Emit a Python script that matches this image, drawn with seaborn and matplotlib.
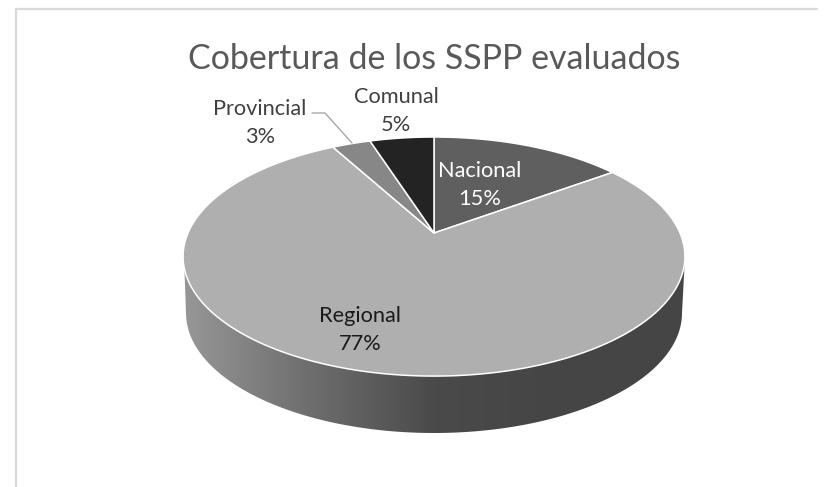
import numpy as np
import matplotlib
matplotlib.use("Agg")
import matplotlib.pyplot as plt
from matplotlib.patches import Polygon
from matplotlib.colors import ListedColormap
import seaborn as sns

categories = ["Nacional", "Regional", "Provincial", "Comunal"]
shares = [15, 77, 3, 5]
slice_colors = ["#5f5f5f", "#afafaf", "#878787", "#232323"]
label_colors = ["#ffffff", "#1a1a1a", "#404040", "#404040"]
label_pos = [(480, 185), (360, 330), (260, 123), (396, 111)]

sns.set_theme(style="white")
plt.rcParams["font.family"] = ["Lato", "DejaVu Sans"]

# centro del pastel y perspectiva
CX, CY = 434, 233
RX, S, K = 246, 114.9, 0.197


def project(theta):
    # angulo medido desde arriba, en sentido horario
    x, y = np.sin(theta), np.cos(theta)
    d = 1 + K * y
    return CX + RX * x / d, CY - S * y / d


fig = plt.figure(figsize=(8.34, 4.87), dpi=100)
ax = fig.add_axes([0, 0, 1, 1])
ax.set_xlim(0, 834)
ax.set_ylim(487, 0)
ax.axis("off")

# marco
ax.plot([16, 16, 817], [487, 9, 9], color="#d9d9d9", lw=1.6, solid_joinstyle="miter")

# borde lateral con degradado
t = np.linspace(-np.pi / 2, np.pi / 2, 200)
bx = 434 + 248 * np.sin(t)
by = 313 + 120 * np.cos(t)
side = Polygon(np.r_[np.c_[bx, by], [[685, 257], [184, 257]]], closed=True, transform=ax.transData, fc="none", ec="none")
ax.add_patch(side)
ramp = sns.blend_palette(["#979797", "#6e6e6e", "#4a4a4a", "#454545", "#454545"], 256)
img = ax.imshow(np.linspace(0, 1, 256)[None, :], cmap=ListedColormap(ramp), extent=[183, 686, 433, 257], aspect="auto", zorder=1)
img.set_clip_path(side)
ax.set_xlim(0, 834)
ax.set_ylim(487, 0)

# porciones
edges = np.r_[0, np.cumsum(shares)] / np.sum(shares) * 2 * np.pi
for i, color in enumerate(slice_colors):
    th = np.linspace(edges[i], edges[i + 1], 300)
    px, py = project(th)
    ax.fill(np.r_[CX, px], np.r_[CY, py], fc=color, ec="white", lw=1.1, zorder=2, joinstyle="round")

# etiquetas
for name, val, col, (lx, ly) in zip(categories, shares, label_colors, label_pos):
    ax.text(lx, ly, f"{name}\n{val}%", color=col, fontsize=15.7, ha="center", va="center", linespacing=1.5, zorder=3)

ax.plot([312, 325, 352], [113, 113, 143], color="#a6a6a6", lw=1, zorder=3)

ax.text(434, 59, "Cobertura de los SSPP evaluados", color="#595959", fontsize=24.5, ha="center", va="center", zorder=3)

fig.savefig("out.png", dpi=100)
